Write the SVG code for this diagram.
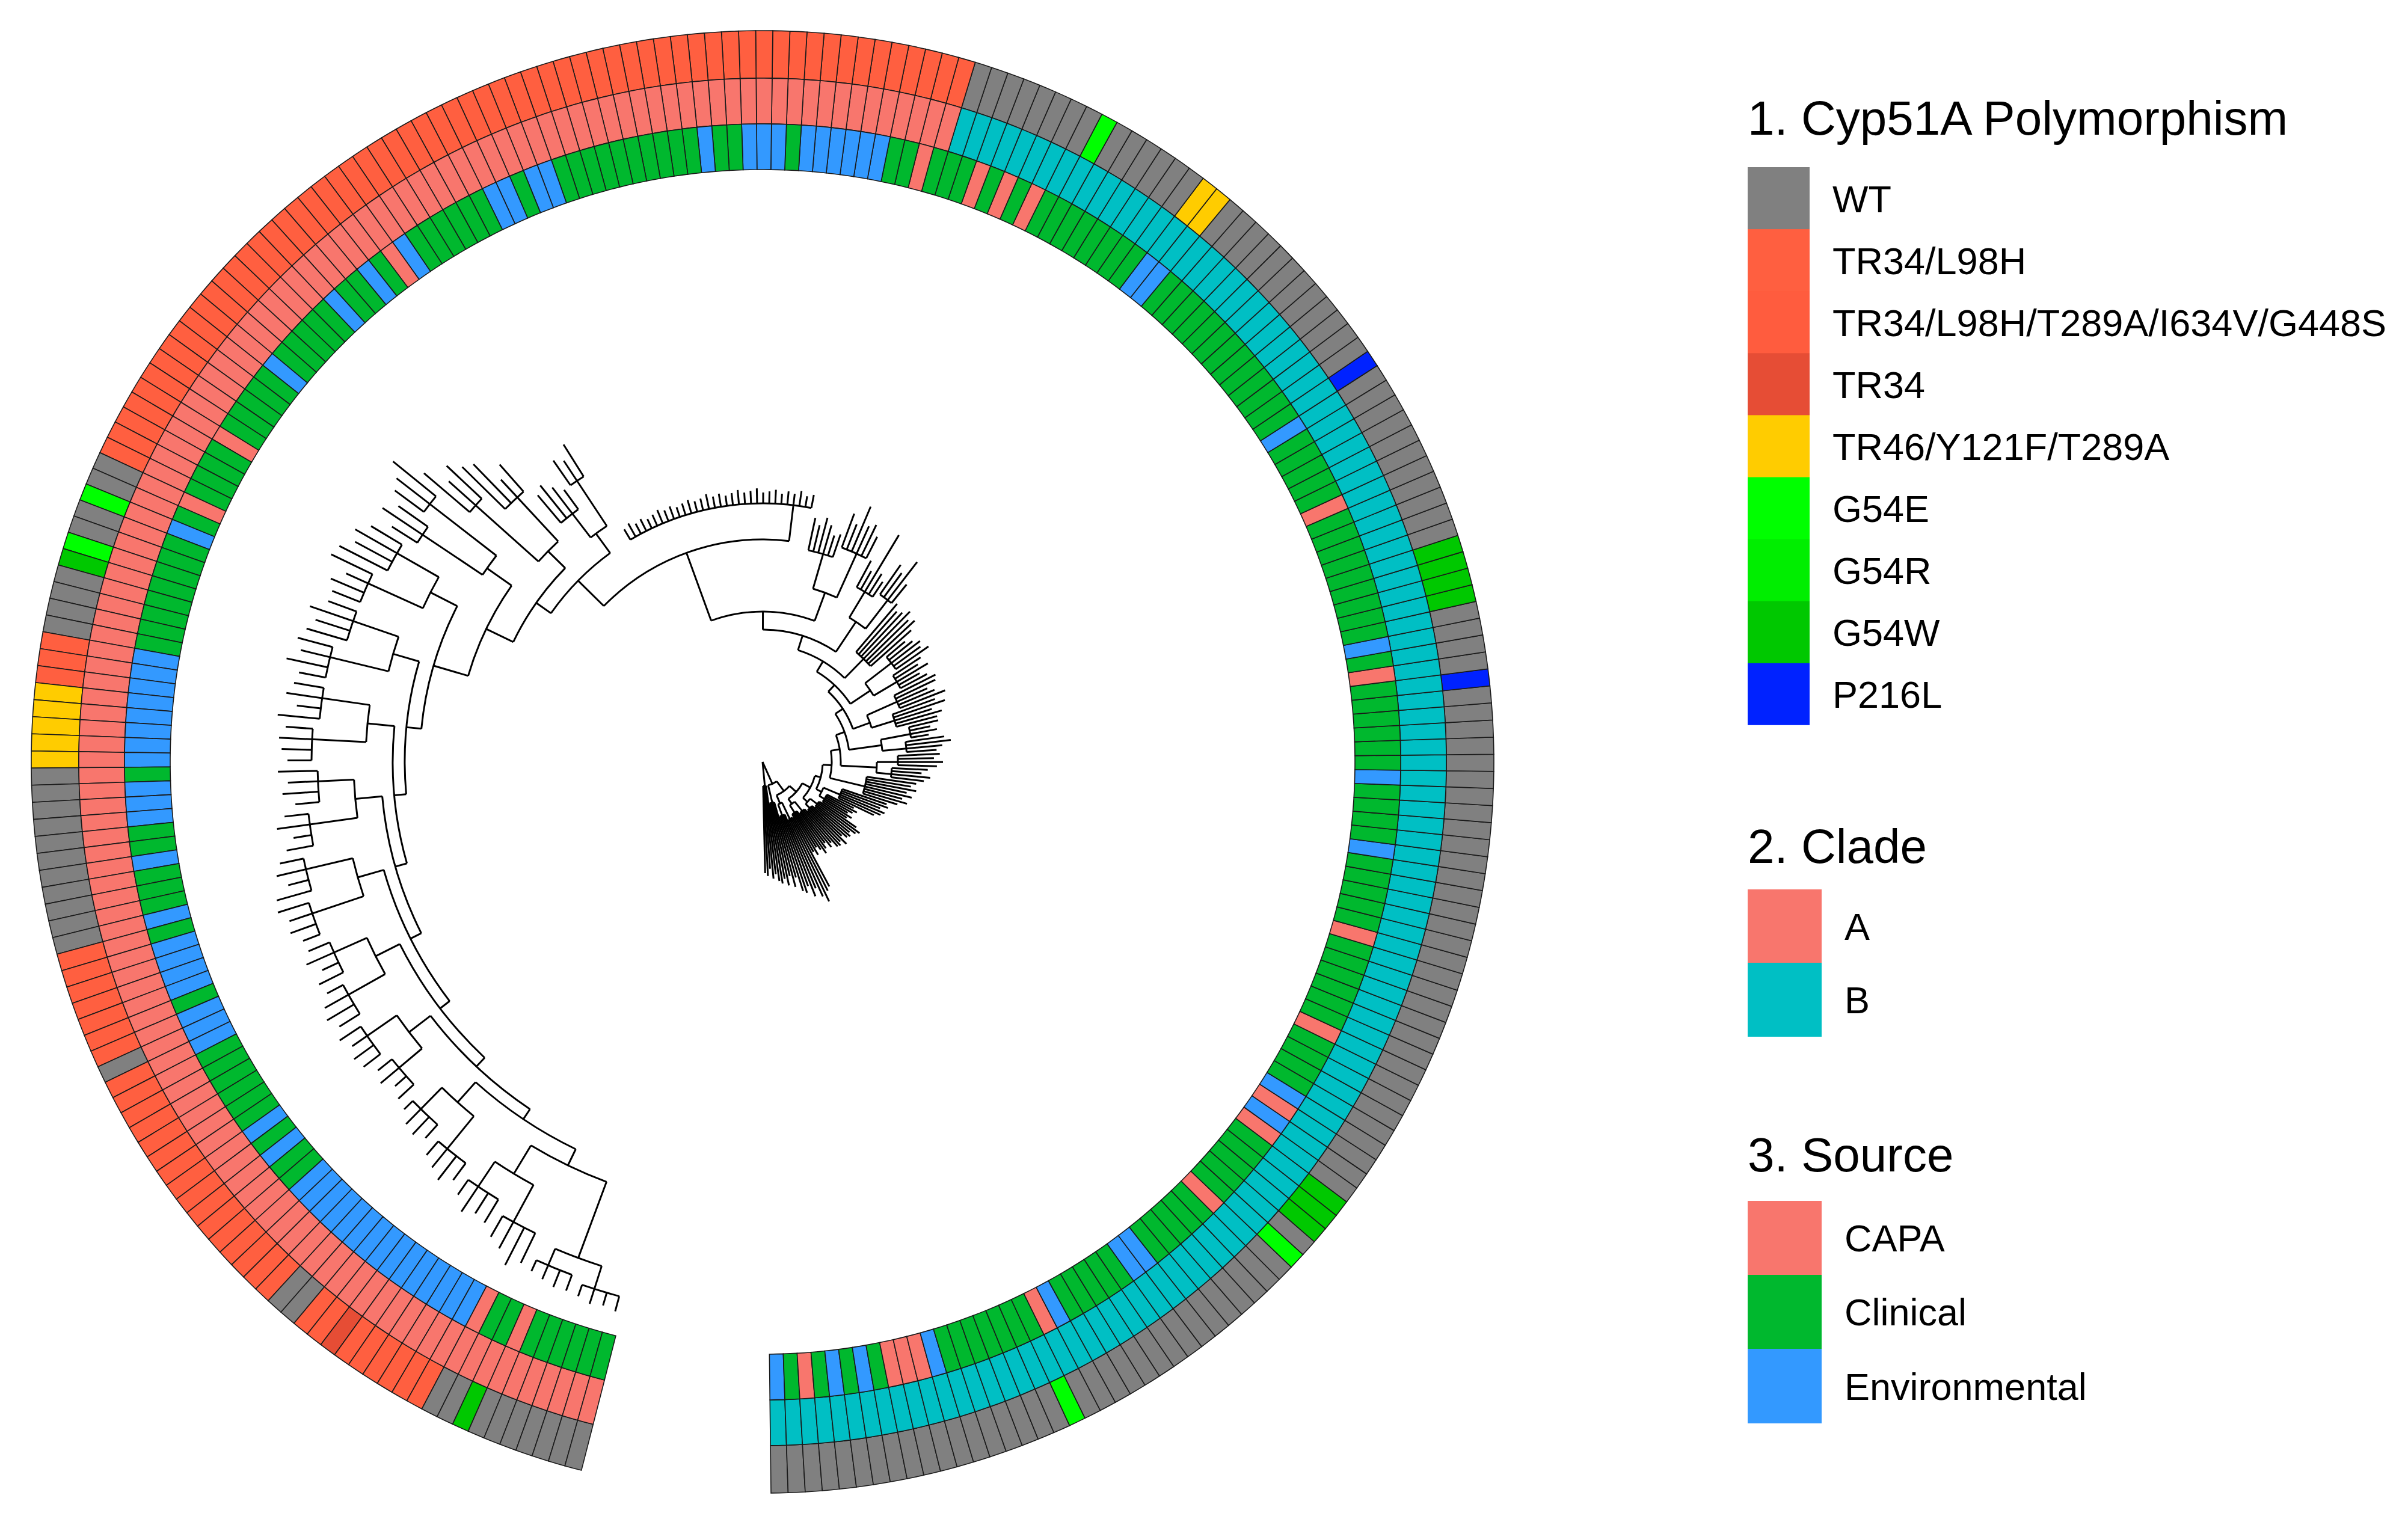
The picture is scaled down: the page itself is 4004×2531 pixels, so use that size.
<svg xmlns="http://www.w3.org/2000/svg" width="4004" height="2531" viewBox="0 0 4004 2531">
<style>
.w{fill:#808080}.r{fill:#FF5F40}.r2{fill:#FF5C3E}.t{fill:#E64D35}.y{fill:#FFCC00}.e{fill:#00FF00}.n{fill:#00EE00}.g{fill:#00C800}.p{fill:#0022FF}
.ca{fill:#F8766D}.cb{fill:#00BFC4}.sk{fill:#F8766D}.sc{fill:#00B82E}.sv{fill:#3399FF}
#tree path,#tree circle{fill:none;stroke:#000;stroke-width:3}
text{font-family:"Liberation Sans",Arial,sans-serif;fill:#000}
.lt{font-size:80px}.ll{font-size:63px}
</style>
<rect width="4004" height="2531" fill="#fff"/>
<defs>
<path id="o" d="M1136.92,-13.319L1215.916,-14.244A1216,1216 0 0 1 1215.916,14.244L1136.92,13.319A1137,1137 0 0 0 1136.92,-13.319Z" stroke="#1a1a1a" stroke-width="1.6"/>
<path id="m" d="M1060.93,-12.429L1136.92,-13.319A1137,1137 0 0 1 1136.92,13.319L1060.93,12.429A1061,1061 0 0 0 1060.93,-12.429Z" stroke="#1a1a1a" stroke-width="1.6"/>
<path id="i" d="M984.93,-11.538L1060.93,-12.429A1061,1061 0 0 1 1060.93,12.429L984.93,11.538A985,985 0 0 0 984.93,-11.538Z" stroke="#1a1a1a" stroke-width="1.6"/>
</defs>
<g id="heatmap" transform="translate(1268 1267)">
<g transform="rotate(88.6688)">
<g><use href="#o" class="w"/><use href="#m" class="cb"/><use href="#i" class="sv"/></g>
<g transform="rotate(-1.3424)"><use href="#o" class="w"/><use href="#m" class="cb"/><use href="#i" class="sc"/></g>
<g transform="rotate(-2.6848)"><use href="#o" class="w"/><use href="#m" class="cb"/><use href="#i" class="sk"/></g>
<g transform="rotate(-4.0272)"><use href="#o" class="w"/><use href="#m" class="cb"/><use href="#i" class="sc"/></g>
<g transform="rotate(-5.3696)"><use href="#o" class="w"/><use href="#m" class="cb"/><use href="#i" class="sv"/></g>
<g transform="rotate(-6.712)"><use href="#o" class="w"/><use href="#m" class="cb"/><use href="#i" class="sc"/></g>
<g transform="rotate(-8.0544)"><use href="#o" class="w"/><use href="#m" class="cb"/><use href="#i" class="sv"/></g>
<g transform="rotate(-9.3968)"><use href="#o" class="w"/><use href="#m" class="cb"/><use href="#i" class="sc"/></g>
<g transform="rotate(-10.7392)"><use href="#o" class="w"/><use href="#m" class="cb"/><use href="#i" class="sk"/></g>
<g transform="rotate(-12.0816)"><use href="#o" class="w"/><use href="#m" class="cb"/><use href="#i" class="sk"/></g>
</g>
<g transform="rotate(75.2448)">
<g><use href="#o" class="w"/><use href="#m" class="cb"/><use href="#i" class="sk"/></g>
<g transform="rotate(-1.3424)"><use href="#o" class="w"/><use href="#m" class="cb"/><use href="#i" class="sv"/></g>
<g transform="rotate(-2.6848)"><use href="#o" class="w"/><use href="#m" class="cb"/><use href="#i" class="sc"/></g>
<g transform="rotate(-4.0272)"><use href="#o" class="w"/><use href="#m" class="cb"/><use href="#i" class="sc"/></g>
<g transform="rotate(-5.3696)"><use href="#o" class="w"/><use href="#m" class="cb"/><use href="#i" class="sc"/></g>
<g transform="rotate(-6.712)"><use href="#o" class="w"/><use href="#m" class="cb"/><use href="#i" class="sc"/></g>
<g transform="rotate(-8.0544)"><use href="#o" class="w"/><use href="#m" class="cb"/><use href="#i" class="sc"/></g>
<g transform="rotate(-9.3968)"><use href="#o" class="w"/><use href="#m" class="cb"/><use href="#i" class="sc"/></g>
<g transform="rotate(-10.7392)"><use href="#o" class="e"/><use href="#m" class="cb"/><use href="#i" class="sc"/></g>
<g transform="rotate(-12.0816)"><use href="#o" class="w"/><use href="#m" class="cb"/><use href="#i" class="sk"/></g>
</g>
<g transform="rotate(61.8208)">
<g><use href="#o" class="w"/><use href="#m" class="cb"/><use href="#i" class="sv"/></g>
<g transform="rotate(-1.3424)"><use href="#o" class="w"/><use href="#m" class="cb"/><use href="#i" class="sc"/></g>
<g transform="rotate(-2.6848)"><use href="#o" class="w"/><use href="#m" class="cb"/><use href="#i" class="sc"/></g>
<g transform="rotate(-4.0272)"><use href="#o" class="w"/><use href="#m" class="cb"/><use href="#i" class="sc"/></g>
<g transform="rotate(-5.3696)"><use href="#o" class="w"/><use href="#m" class="cb"/><use href="#i" class="sc"/></g>
<g transform="rotate(-6.712)"><use href="#o" class="w"/><use href="#m" class="cb"/><use href="#i" class="sc"/></g>
<g transform="rotate(-8.0544)"><use href="#o" class="w"/><use href="#m" class="cb"/><use href="#i" class="sv"/></g>
<g transform="rotate(-9.3968)"><use href="#o" class="w"/><use href="#m" class="cb"/><use href="#i" class="sv"/></g>
<g transform="rotate(-10.7392)"><use href="#o" class="w"/><use href="#m" class="cb"/><use href="#i" class="sc"/></g>
<g transform="rotate(-12.0816)"><use href="#o" class="w"/><use href="#m" class="cb"/><use href="#i" class="sc"/></g>
</g>
<g transform="rotate(48.3968)">
<g><use href="#o" class="w"/><use href="#m" class="cb"/><use href="#i" class="sc"/></g>
<g transform="rotate(-1.3424)"><use href="#o" class="w"/><use href="#m" class="cb"/><use href="#i" class="sc"/></g>
<g transform="rotate(-2.6848)"><use href="#o" class="w"/><use href="#m" class="cb"/><use href="#i" class="sc"/></g>
<g transform="rotate(-4.0272)"><use href="#o" class="w"/><use href="#m" class="cb"/><use href="#i" class="sk"/></g>
<g transform="rotate(-5.3696)"><use href="#o" class="e"/><use href="#m" class="cb"/><use href="#i" class="sc"/></g>
<g transform="rotate(-6.712)"><use href="#o" class="w"/><use href="#m" class="cb"/><use href="#i" class="sc"/></g>
<g transform="rotate(-8.0544)"><use href="#o" class="g"/><use href="#m" class="cb"/><use href="#i" class="sc"/></g>
<g transform="rotate(-9.3968)"><use href="#o" class="g"/><use href="#m" class="cb"/><use href="#i" class="sc"/></g>
<g transform="rotate(-10.7392)"><use href="#o" class="g"/><use href="#m" class="cb"/><use href="#i" class="sc"/></g>
<g transform="rotate(-12.0816)"><use href="#o" class="w"/><use href="#m" class="cb"/><use href="#i" class="sk"/></g>
</g>
<g transform="rotate(34.9728)">
<g><use href="#o" class="w"/><use href="#m" class="cb"/><use href="#i" class="sv"/></g>
<g transform="rotate(-1.3424)"><use href="#o" class="w"/><use href="#m" class="cb"/><use href="#i" class="sk"/></g>
<g transform="rotate(-2.6848)"><use href="#o" class="w"/><use href="#m" class="cb"/><use href="#i" class="sv"/></g>
<g transform="rotate(-4.0272)"><use href="#o" class="w"/><use href="#m" class="cb"/><use href="#i" class="sc"/></g>
<g transform="rotate(-5.3696)"><use href="#o" class="w"/><use href="#m" class="cb"/><use href="#i" class="sc"/></g>
<g transform="rotate(-6.712)"><use href="#o" class="w"/><use href="#m" class="cb"/><use href="#i" class="sc"/></g>
<g transform="rotate(-8.0544)"><use href="#o" class="w"/><use href="#m" class="cb"/><use href="#i" class="sc"/></g>
<g transform="rotate(-9.3968)"><use href="#o" class="w"/><use href="#m" class="cb"/><use href="#i" class="sk"/></g>
<g transform="rotate(-10.7392)"><use href="#o" class="w"/><use href="#m" class="cb"/><use href="#i" class="sc"/></g>
<g transform="rotate(-12.0816)"><use href="#o" class="w"/><use href="#m" class="cb"/><use href="#i" class="sc"/></g>
</g>
<g transform="rotate(21.5488)">
<g><use href="#o" class="w"/><use href="#m" class="cb"/><use href="#i" class="sc"/></g>
<g transform="rotate(-1.3424)"><use href="#o" class="w"/><use href="#m" class="cb"/><use href="#i" class="sc"/></g>
<g transform="rotate(-2.6848)"><use href="#o" class="w"/><use href="#m" class="cb"/><use href="#i" class="sc"/></g>
<g transform="rotate(-4.0272)"><use href="#o" class="w"/><use href="#m" class="cb"/><use href="#i" class="sc"/></g>
<g transform="rotate(-5.3696)"><use href="#o" class="w"/><use href="#m" class="cb"/><use href="#i" class="sk"/></g>
<g transform="rotate(-6.712)"><use href="#o" class="w"/><use href="#m" class="cb"/><use href="#i" class="sc"/></g>
<g transform="rotate(-8.0544)"><use href="#o" class="w"/><use href="#m" class="cb"/><use href="#i" class="sc"/></g>
<g transform="rotate(-9.3968)"><use href="#o" class="w"/><use href="#m" class="cb"/><use href="#i" class="sc"/></g>
<g transform="rotate(-10.7392)"><use href="#o" class="w"/><use href="#m" class="cb"/><use href="#i" class="sc"/></g>
<g transform="rotate(-12.0816)"><use href="#o" class="w"/><use href="#m" class="cb"/><use href="#i" class="sc"/></g>
</g>
<g transform="rotate(8.1248)">
<g><use href="#o" class="w"/><use href="#m" class="cb"/><use href="#i" class="sv"/></g>
<g transform="rotate(-1.3424)"><use href="#o" class="w"/><use href="#m" class="cb"/><use href="#i" class="sc"/></g>
<g transform="rotate(-2.6848)"><use href="#o" class="w"/><use href="#m" class="cb"/><use href="#i" class="sc"/></g>
<g transform="rotate(-4.0272)"><use href="#o" class="w"/><use href="#m" class="cb"/><use href="#i" class="sc"/></g>
<g transform="rotate(-5.3696)"><use href="#o" class="w"/><use href="#m" class="cb"/><use href="#i" class="sc"/></g>
<g transform="rotate(-6.712)"><use href="#o" class="w"/><use href="#m" class="cb"/><use href="#i" class="sv"/></g>
<g transform="rotate(-8.0544)"><use href="#o" class="w"/><use href="#m" class="cb"/><use href="#i" class="sc"/></g>
<g transform="rotate(-9.3968)"><use href="#o" class="w"/><use href="#m" class="cb"/><use href="#i" class="sc"/></g>
<g transform="rotate(-10.7392)"><use href="#o" class="w"/><use href="#m" class="cb"/><use href="#i" class="sc"/></g>
<g transform="rotate(-12.0816)"><use href="#o" class="w"/><use href="#m" class="cb"/><use href="#i" class="sc"/></g>
</g>
<g transform="rotate(-5.2992)">
<g><use href="#o" class="w"/><use href="#m" class="cb"/><use href="#i" class="sc"/></g>
<g transform="rotate(-1.3424)"><use href="#o" class="p"/><use href="#m" class="cb"/><use href="#i" class="sc"/></g>
<g transform="rotate(-2.6848)"><use href="#o" class="w"/><use href="#m" class="cb"/><use href="#i" class="sk"/></g>
<g transform="rotate(-4.0272)"><use href="#o" class="w"/><use href="#m" class="cb"/><use href="#i" class="sc"/></g>
<g transform="rotate(-5.3696)"><use href="#o" class="w"/><use href="#m" class="cb"/><use href="#i" class="sv"/></g>
<g transform="rotate(-6.712)"><use href="#o" class="w"/><use href="#m" class="cb"/><use href="#i" class="sc"/></g>
<g transform="rotate(-8.0544)"><use href="#o" class="g"/><use href="#m" class="cb"/><use href="#i" class="sc"/></g>
<g transform="rotate(-9.3968)"><use href="#o" class="g"/><use href="#m" class="cb"/><use href="#i" class="sc"/></g>
<g transform="rotate(-10.7392)"><use href="#o" class="g"/><use href="#m" class="cb"/><use href="#i" class="sc"/></g>
<g transform="rotate(-12.0816)"><use href="#o" class="g"/><use href="#m" class="cb"/><use href="#i" class="sc"/></g>
</g>
<g transform="rotate(-18.7232)">
<g><use href="#o" class="w"/><use href="#m" class="cb"/><use href="#i" class="sc"/></g>
<g transform="rotate(-1.3424)"><use href="#o" class="w"/><use href="#m" class="cb"/><use href="#i" class="sc"/></g>
<g transform="rotate(-2.6848)"><use href="#o" class="w"/><use href="#m" class="cb"/><use href="#i" class="sc"/></g>
<g transform="rotate(-4.0272)"><use href="#o" class="w"/><use href="#m" class="cb"/><use href="#i" class="sc"/></g>
<g transform="rotate(-5.3696)"><use href="#o" class="w"/><use href="#m" class="cb"/><use href="#i" class="sk"/></g>
<g transform="rotate(-6.712)"><use href="#o" class="w"/><use href="#m" class="cb"/><use href="#i" class="sc"/></g>
<g transform="rotate(-8.0544)"><use href="#o" class="w"/><use href="#m" class="cb"/><use href="#i" class="sc"/></g>
<g transform="rotate(-9.3968)"><use href="#o" class="w"/><use href="#m" class="cb"/><use href="#i" class="sc"/></g>
<g transform="rotate(-10.7392)"><use href="#o" class="w"/><use href="#m" class="cb"/><use href="#i" class="sc"/></g>
<g transform="rotate(-12.0816)"><use href="#o" class="w"/><use href="#m" class="cb"/><use href="#i" class="sc"/></g>
</g>
<g transform="rotate(-32.1472)">
<g><use href="#o" class="w"/><use href="#m" class="cb"/><use href="#i" class="sv"/></g>
<g transform="rotate(-1.3424)"><use href="#o" class="p"/><use href="#m" class="cb"/><use href="#i" class="sc"/></g>
<g transform="rotate(-2.6848)"><use href="#o" class="w"/><use href="#m" class="cb"/><use href="#i" class="sc"/></g>
<g transform="rotate(-4.0272)"><use href="#o" class="w"/><use href="#m" class="cb"/><use href="#i" class="sc"/></g>
<g transform="rotate(-5.3696)"><use href="#o" class="w"/><use href="#m" class="cb"/><use href="#i" class="sc"/></g>
<g transform="rotate(-6.712)"><use href="#o" class="w"/><use href="#m" class="cb"/><use href="#i" class="sc"/></g>
<g transform="rotate(-8.0544)"><use href="#o" class="w"/><use href="#m" class="cb"/><use href="#i" class="sc"/></g>
<g transform="rotate(-9.3968)"><use href="#o" class="w"/><use href="#m" class="cb"/><use href="#i" class="sc"/></g>
<g transform="rotate(-10.7392)"><use href="#o" class="w"/><use href="#m" class="cb"/><use href="#i" class="sc"/></g>
<g transform="rotate(-12.0816)"><use href="#o" class="w"/><use href="#m" class="cb"/><use href="#i" class="sc"/></g>
</g>
<g transform="rotate(-45.5712)">
<g><use href="#o" class="w"/><use href="#m" class="cb"/><use href="#i" class="sc"/></g>
<g transform="rotate(-1.3424)"><use href="#o" class="w"/><use href="#m" class="cb"/><use href="#i" class="sc"/></g>
<g transform="rotate(-2.6848)"><use href="#o" class="w"/><use href="#m" class="cb"/><use href="#i" class="sc"/></g>
<g transform="rotate(-4.0272)"><use href="#o" class="w"/><use href="#m" class="cb"/><use href="#i" class="sc"/></g>
<g transform="rotate(-5.3696)"><use href="#o" class="y"/><use href="#m" class="cb"/><use href="#i" class="sv"/></g>
<g transform="rotate(-6.712)"><use href="#o" class="y"/><use href="#m" class="cb"/><use href="#i" class="sv"/></g>
<g transform="rotate(-8.0544)"><use href="#o" class="w"/><use href="#m" class="cb"/><use href="#i" class="sc"/></g>
<g transform="rotate(-9.3968)"><use href="#o" class="w"/><use href="#m" class="cb"/><use href="#i" class="sc"/></g>
<g transform="rotate(-10.7392)"><use href="#o" class="w"/><use href="#m" class="cb"/><use href="#i" class="sc"/></g>
<g transform="rotate(-12.0816)"><use href="#o" class="w"/><use href="#m" class="cb"/><use href="#i" class="sc"/></g>
</g>
<g transform="rotate(-58.9952)">
<g><use href="#o" class="w"/><use href="#m" class="cb"/><use href="#i" class="sc"/></g>
<g transform="rotate(-1.3424)"><use href="#o" class="w"/><use href="#m" class="cb"/><use href="#i" class="sc"/></g>
<g transform="rotate(-2.6848)"><use href="#o" class="e"/><use href="#m" class="cb"/><use href="#i" class="sc"/></g>
<g transform="rotate(-4.0272)"><use href="#o" class="w"/><use href="#m" class="cb"/><use href="#i" class="sc"/></g>
<g transform="rotate(-5.3696)"><use href="#o" class="w"/><use href="#m" class="cb"/><use href="#i" class="sk"/></g>
<g transform="rotate(-6.712)"><use href="#o" class="w"/><use href="#m" class="cb"/><use href="#i" class="sc"/></g>
<g transform="rotate(-8.0544)"><use href="#o" class="w"/><use href="#m" class="cb"/><use href="#i" class="sk"/></g>
<g transform="rotate(-9.3968)"><use href="#o" class="w"/><use href="#m" class="cb"/><use href="#i" class="sc"/></g>
<g transform="rotate(-10.7392)"><use href="#o" class="w"/><use href="#m" class="cb"/><use href="#i" class="sk"/></g>
<g transform="rotate(-12.0816)"><use href="#o" class="w"/><use href="#m" class="cb"/><use href="#i" class="sc"/></g>
</g>
<g transform="rotate(-72.4192)">
<g><use href="#o" class="w"/><use href="#m" class="cb"/><use href="#i" class="sc"/></g>
<g transform="rotate(-1.3424)"><use href="#o" class="r"/><use href="#m" class="ca"/><use href="#i" class="sc"/></g>
<g transform="rotate(-2.6848)"><use href="#o" class="r"/><use href="#m" class="ca"/><use href="#i" class="sk"/></g>
<g transform="rotate(-4.0272)"><use href="#o" class="r"/><use href="#m" class="ca"/><use href="#i" class="sc"/></g>
<g transform="rotate(-5.3696)"><use href="#o" class="r"/><use href="#m" class="ca"/><use href="#i" class="sc"/></g>
<g transform="rotate(-6.712)"><use href="#o" class="r"/><use href="#m" class="ca"/><use href="#i" class="sv"/></g>
<g transform="rotate(-8.0544)"><use href="#o" class="r"/><use href="#m" class="ca"/><use href="#i" class="sv"/></g>
<g transform="rotate(-9.3968)"><use href="#o" class="r"/><use href="#m" class="ca"/><use href="#i" class="sv"/></g>
<g transform="rotate(-10.7392)"><use href="#o" class="r"/><use href="#m" class="ca"/><use href="#i" class="sv"/></g>
<g transform="rotate(-12.0816)"><use href="#o" class="r"/><use href="#m" class="ca"/><use href="#i" class="sv"/></g>
</g>
<g transform="rotate(-85.8432)">
<g><use href="#o" class="r"/><use href="#m" class="ca"/><use href="#i" class="sv"/></g>
<g transform="rotate(-1.3424)"><use href="#o" class="r"/><use href="#m" class="ca"/><use href="#i" class="sc"/></g>
<g transform="rotate(-2.6848)"><use href="#o" class="r"/><use href="#m" class="ca"/><use href="#i" class="sv"/></g>
<g transform="rotate(-4.0272)"><use href="#o" class="r"/><use href="#m" class="ca"/><use href="#i" class="sv"/></g>
<g transform="rotate(-5.3696)"><use href="#o" class="r"/><use href="#m" class="ca"/><use href="#i" class="sv"/></g>
<g transform="rotate(-6.712)"><use href="#o" class="r"/><use href="#m" class="ca"/><use href="#i" class="sc"/></g>
<g transform="rotate(-8.0544)"><use href="#o" class="r"/><use href="#m" class="ca"/><use href="#i" class="sc"/></g>
<g transform="rotate(-9.3968)"><use href="#o" class="r"/><use href="#m" class="ca"/><use href="#i" class="sv"/></g>
<g transform="rotate(-10.7392)"><use href="#o" class="r"/><use href="#m" class="ca"/><use href="#i" class="sc"/></g>
<g transform="rotate(-12.0816)"><use href="#o" class="r"/><use href="#m" class="ca"/><use href="#i" class="sc"/></g>
</g>
<g transform="rotate(-99.2672)">
<g><use href="#o" class="r"/><use href="#m" class="ca"/><use href="#i" class="sc"/></g>
<g transform="rotate(-1.3424)"><use href="#o" class="r"/><use href="#m" class="ca"/><use href="#i" class="sc"/></g>
<g transform="rotate(-2.6848)"><use href="#o" class="r"/><use href="#m" class="ca"/><use href="#i" class="sc"/></g>
<g transform="rotate(-4.0272)"><use href="#o" class="r"/><use href="#m" class="ca"/><use href="#i" class="sc"/></g>
<g transform="rotate(-5.3696)"><use href="#o" class="r"/><use href="#m" class="ca"/><use href="#i" class="sc"/></g>
<g transform="rotate(-6.712)"><use href="#o" class="r"/><use href="#m" class="ca"/><use href="#i" class="sc"/></g>
<g transform="rotate(-8.0544)"><use href="#o" class="r"/><use href="#m" class="ca"/><use href="#i" class="sc"/></g>
<g transform="rotate(-9.3968)"><use href="#o" class="r"/><use href="#m" class="ca"/><use href="#i" class="sc"/></g>
<g transform="rotate(-10.7392)"><use href="#o" class="r"/><use href="#m" class="ca"/><use href="#i" class="sv"/></g>
<g transform="rotate(-12.0816)"><use href="#o" class="r"/><use href="#m" class="ca"/><use href="#i" class="sv"/></g>
</g>
<g transform="rotate(-112.6912)">
<g><use href="#o" class="r"/><use href="#m" class="ca"/><use href="#i" class="sc"/></g>
<g transform="rotate(-1.3424)"><use href="#o" class="r"/><use href="#m" class="ca"/><use href="#i" class="sv"/></g>
<g transform="rotate(-2.6848)"><use href="#o" class="r"/><use href="#m" class="ca"/><use href="#i" class="sv"/></g>
<g transform="rotate(-4.0272)"><use href="#o" class="r"/><use href="#m" class="ca"/><use href="#i" class="sc"/></g>
<g transform="rotate(-5.3696)"><use href="#o" class="r"/><use href="#m" class="ca"/><use href="#i" class="sc"/></g>
<g transform="rotate(-6.712)"><use href="#o" class="r"/><use href="#m" class="ca"/><use href="#i" class="sc"/></g>
<g transform="rotate(-8.0544)"><use href="#o" class="r"/><use href="#m" class="ca"/><use href="#i" class="sc"/></g>
<g transform="rotate(-9.3968)"><use href="#o" class="r"/><use href="#m" class="ca"/><use href="#i" class="sc"/></g>
<g transform="rotate(-10.7392)"><use href="#o" class="r"/><use href="#m" class="ca"/><use href="#i" class="sc"/></g>
<g transform="rotate(-12.0816)"><use href="#o" class="r"/><use href="#m" class="ca"/><use href="#i" class="sv"/></g>
</g>
<g transform="rotate(-126.1152)">
<g><use href="#o" class="r"/><use href="#m" class="ca"/><use href="#i" class="sk"/></g>
<g transform="rotate(-1.3424)"><use href="#o" class="r"/><use href="#m" class="ca"/><use href="#i" class="sc"/></g>
<g transform="rotate(-2.6848)"><use href="#o" class="r"/><use href="#m" class="ca"/><use href="#i" class="sv"/></g>
<g transform="rotate(-4.0272)"><use href="#o" class="r"/><use href="#m" class="ca"/><use href="#i" class="sc"/></g>
<g transform="rotate(-5.3696)"><use href="#o" class="r"/><use href="#m" class="ca"/><use href="#i" class="sc"/></g>
<g transform="rotate(-6.712)"><use href="#o" class="r"/><use href="#m" class="ca"/><use href="#i" class="sv"/></g>
<g transform="rotate(-8.0544)"><use href="#o" class="r"/><use href="#m" class="ca"/><use href="#i" class="sc"/></g>
<g transform="rotate(-9.3968)"><use href="#o" class="r"/><use href="#m" class="ca"/><use href="#i" class="sc"/></g>
<g transform="rotate(-10.7392)"><use href="#o" class="r"/><use href="#m" class="ca"/><use href="#i" class="sc"/></g>
<g transform="rotate(-12.0816)"><use href="#o" class="r"/><use href="#m" class="ca"/><use href="#i" class="sc"/></g>
</g>
<g transform="rotate(-139.5392)">
<g><use href="#o" class="r"/><use href="#m" class="ca"/><use href="#i" class="sc"/></g>
<g transform="rotate(-1.3424)"><use href="#o" class="r"/><use href="#m" class="ca"/><use href="#i" class="sv"/></g>
<g transform="rotate(-2.6848)"><use href="#o" class="r"/><use href="#m" class="ca"/><use href="#i" class="sc"/></g>
<g transform="rotate(-4.0272)"><use href="#o" class="r"/><use href="#m" class="ca"/><use href="#i" class="sc"/></g>
<g transform="rotate(-5.3696)"><use href="#o" class="r"/><use href="#m" class="ca"/><use href="#i" class="sc"/></g>
<g transform="rotate(-6.712)"><use href="#o" class="r"/><use href="#m" class="ca"/><use href="#i" class="sc"/></g>
<g transform="rotate(-8.0544)"><use href="#o" class="r"/><use href="#m" class="ca"/><use href="#i" class="sc"/></g>
<g transform="rotate(-9.3968)"><use href="#o" class="r"/><use href="#m" class="ca"/><use href="#i" class="sk"/></g>
<g transform="rotate(-10.7392)"><use href="#o" class="r"/><use href="#m" class="ca"/><use href="#i" class="sc"/></g>
<g transform="rotate(-12.0816)"><use href="#o" class="r"/><use href="#m" class="ca"/><use href="#i" class="sc"/></g>
</g>
<g transform="rotate(-152.9632)">
<g><use href="#o" class="r"/><use href="#m" class="ca"/><use href="#i" class="sc"/></g>
<g transform="rotate(-1.3424)"><use href="#o" class="r"/><use href="#m" class="ca"/><use href="#i" class="sc"/></g>
<g transform="rotate(-2.6848)"><use href="#o" class="w"/><use href="#m" class="ca"/><use href="#i" class="sk"/></g>
<g transform="rotate(-4.0272)"><use href="#o" class="w"/><use href="#m" class="ca"/><use href="#i" class="sc"/></g>
<g transform="rotate(-5.3696)"><use href="#o" class="e"/><use href="#m" class="ca"/><use href="#i" class="sv"/></g>
<g transform="rotate(-6.712)"><use href="#o" class="w"/><use href="#m" class="ca"/><use href="#i" class="sc"/></g>
<g transform="rotate(-8.0544)"><use href="#o" class="w"/><use href="#m" class="ca"/><use href="#i" class="sc"/></g>
<g transform="rotate(-9.3968)"><use href="#o" class="e"/><use href="#m" class="ca"/><use href="#i" class="sc"/></g>
<g transform="rotate(-10.7392)"><use href="#o" class="g"/><use href="#m" class="ca"/><use href="#i" class="sc"/></g>
<g transform="rotate(-12.0816)"><use href="#o" class="w"/><use href="#m" class="ca"/><use href="#i" class="sc"/></g>
</g>
<g transform="rotate(-166.3872)">
<g><use href="#o" class="w"/><use href="#m" class="ca"/><use href="#i" class="sc"/></g>
<g transform="rotate(-1.3424)"><use href="#o" class="w"/><use href="#m" class="ca"/><use href="#i" class="sc"/></g>
<g transform="rotate(-2.6848)"><use href="#o" class="w"/><use href="#m" class="ca"/><use href="#i" class="sc"/></g>
<g transform="rotate(-4.0272)"><use href="#o" class="r"/><use href="#m" class="ca"/><use href="#i" class="sv"/></g>
<g transform="rotate(-5.3696)"><use href="#o" class="r"/><use href="#m" class="ca"/><use href="#i" class="sv"/></g>
<g transform="rotate(-6.712)"><use href="#o" class="r"/><use href="#m" class="ca"/><use href="#i" class="sv"/></g>
<g transform="rotate(-8.0544)"><use href="#o" class="y"/><use href="#m" class="ca"/><use href="#i" class="sv"/></g>
<g transform="rotate(-9.3968)"><use href="#o" class="y"/><use href="#m" class="ca"/><use href="#i" class="sv"/></g>
<g transform="rotate(-10.7392)"><use href="#o" class="y"/><use href="#m" class="ca"/><use href="#i" class="sv"/></g>
<g transform="rotate(-12.0816)"><use href="#o" class="y"/><use href="#m" class="ca"/><use href="#i" class="sv"/></g>
</g>
<g transform="rotate(-179.8112)">
<g><use href="#o" class="y"/><use href="#m" class="ca"/><use href="#i" class="sv"/></g>
<g transform="rotate(-1.3424)"><use href="#o" class="w"/><use href="#m" class="ca"/><use href="#i" class="sc"/></g>
<g transform="rotate(-2.6848)"><use href="#o" class="w"/><use href="#m" class="ca"/><use href="#i" class="sv"/></g>
<g transform="rotate(-4.0272)"><use href="#o" class="w"/><use href="#m" class="ca"/><use href="#i" class="sv"/></g>
<g transform="rotate(-5.3696)"><use href="#o" class="w"/><use href="#m" class="ca"/><use href="#i" class="sv"/></g>
<g transform="rotate(-6.712)"><use href="#o" class="w"/><use href="#m" class="ca"/><use href="#i" class="sc"/></g>
<g transform="rotate(-8.0544)"><use href="#o" class="w"/><use href="#m" class="ca"/><use href="#i" class="sc"/></g>
<g transform="rotate(-9.3968)"><use href="#o" class="w"/><use href="#m" class="ca"/><use href="#i" class="sv"/></g>
<g transform="rotate(-10.7392)"><use href="#o" class="w"/><use href="#m" class="ca"/><use href="#i" class="sc"/></g>
<g transform="rotate(-12.0816)"><use href="#o" class="w"/><use href="#m" class="ca"/><use href="#i" class="sc"/></g>
</g>
<g transform="rotate(-193.2352)">
<g><use href="#o" class="w"/><use href="#m" class="ca"/><use href="#i" class="sc"/></g>
<g transform="rotate(-1.3424)"><use href="#o" class="w"/><use href="#m" class="ca"/><use href="#i" class="sv"/></g>
<g transform="rotate(-2.6848)"><use href="#o" class="r"/><use href="#m" class="ca"/><use href="#i" class="sc"/></g>
<g transform="rotate(-4.0272)"><use href="#o" class="r"/><use href="#m" class="ca"/><use href="#i" class="sv"/></g>
<g transform="rotate(-5.3696)"><use href="#o" class="r"/><use href="#m" class="ca"/><use href="#i" class="sv"/></g>
<g transform="rotate(-6.712)"><use href="#o" class="r"/><use href="#m" class="ca"/><use href="#i" class="sv"/></g>
<g transform="rotate(-8.0544)"><use href="#o" class="r"/><use href="#m" class="ca"/><use href="#i" class="sv"/></g>
<g transform="rotate(-9.3968)"><use href="#o" class="r"/><use href="#m" class="ca"/><use href="#i" class="sc"/></g>
<g transform="rotate(-10.7392)"><use href="#o" class="r"/><use href="#m" class="ca"/><use href="#i" class="sv"/></g>
<g transform="rotate(-12.0816)"><use href="#o" class="w"/><use href="#m" class="ca"/><use href="#i" class="sv"/></g>
</g>
<g transform="rotate(-206.6592)">
<g><use href="#o" class="r"/><use href="#m" class="ca"/><use href="#i" class="sv"/></g>
<g transform="rotate(-1.3424)"><use href="#o" class="r"/><use href="#m" class="ca"/><use href="#i" class="sc"/></g>
<g transform="rotate(-2.6848)"><use href="#o" class="r"/><use href="#m" class="ca"/><use href="#i" class="sc"/></g>
<g transform="rotate(-4.0272)"><use href="#o" class="r"/><use href="#m" class="ca"/><use href="#i" class="sc"/></g>
<g transform="rotate(-5.3696)"><use href="#o" class="r"/><use href="#m" class="ca"/><use href="#i" class="sc"/></g>
<g transform="rotate(-6.712)"><use href="#o" class="r"/><use href="#m" class="ca"/><use href="#i" class="sc"/></g>
<g transform="rotate(-8.0544)"><use href="#o" class="r"/><use href="#m" class="ca"/><use href="#i" class="sc"/></g>
<g transform="rotate(-9.3968)"><use href="#o" class="r"/><use href="#m" class="ca"/><use href="#i" class="sv"/></g>
<g transform="rotate(-10.7392)"><use href="#o" class="r"/><use href="#m" class="ca"/><use href="#i" class="sc"/></g>
<g transform="rotate(-12.0816)"><use href="#o" class="r"/><use href="#m" class="ca"/><use href="#i" class="sv"/></g>
</g>
<g transform="rotate(-220.0832)">
<g><use href="#o" class="r"/><use href="#m" class="ca"/><use href="#i" class="sc"/></g>
<g transform="rotate(-1.3424)"><use href="#o" class="r"/><use href="#m" class="ca"/><use href="#i" class="sc"/></g>
<g transform="rotate(-2.6848)"><use href="#o" class="r"/><use href="#m" class="ca"/><use href="#i" class="sv"/></g>
<g transform="rotate(-4.0272)"><use href="#o" class="r"/><use href="#m" class="ca"/><use href="#i" class="sv"/></g>
<g transform="rotate(-5.3696)"><use href="#o" class="r"/><use href="#m" class="ca"/><use href="#i" class="sv"/></g>
<g transform="rotate(-6.712)"><use href="#o" class="r"/><use href="#m" class="ca"/><use href="#i" class="sv"/></g>
<g transform="rotate(-8.0544)"><use href="#o" class="w"/><use href="#m" class="ca"/><use href="#i" class="sv"/></g>
<g transform="rotate(-9.3968)"><use href="#o" class="w"/><use href="#m" class="ca"/><use href="#i" class="sv"/></g>
<g transform="rotate(-10.7392)"><use href="#o" class="r"/><use href="#m" class="ca"/><use href="#i" class="sv"/></g>
<g transform="rotate(-12.0816)"><use href="#o" class="r"/><use href="#m" class="ca"/><use href="#i" class="sv"/></g>
</g>
<g transform="rotate(-233.5072)">
<g><use href="#o" class="t"/><use href="#m" class="ca"/><use href="#i" class="sv"/></g>
<g transform="rotate(-1.3424)"><use href="#o" class="r"/><use href="#m" class="ca"/><use href="#i" class="sv"/></g>
<g transform="rotate(-2.6848)"><use href="#o" class="r"/><use href="#m" class="ca"/><use href="#i" class="sv"/></g>
<g transform="rotate(-4.0272)"><use href="#o" class="r"/><use href="#m" class="ca"/><use href="#i" class="sv"/></g>
<g transform="rotate(-5.3696)"><use href="#o" class="r"/><use href="#m" class="ca"/><use href="#i" class="sv"/></g>
<g transform="rotate(-6.712)"><use href="#o" class="r"/><use href="#m" class="ca"/><use href="#i" class="sv"/></g>
<g transform="rotate(-8.0544)"><use href="#o" class="r"/><use href="#m" class="ca"/><use href="#i" class="sv"/></g>
<g transform="rotate(-9.3968)"><use href="#o" class="w"/><use href="#m" class="ca"/><use href="#i" class="sk"/></g>
<g transform="rotate(-10.7392)"><use href="#o" class="w"/><use href="#m" class="ca"/><use href="#i" class="sc"/></g>
<g transform="rotate(-12.0816)"><use href="#o" class="g"/><use href="#m" class="ca"/><use href="#i" class="sc"/></g>
</g>
<g transform="rotate(-246.9312)">
<g><use href="#o" class="w"/><use href="#m" class="ca"/><use href="#i" class="sk"/></g>
<g transform="rotate(-1.3424)"><use href="#o" class="w"/><use href="#m" class="ca"/><use href="#i" class="sc"/></g>
<g transform="rotate(-2.6848)"><use href="#o" class="w"/><use href="#m" class="ca"/><use href="#i" class="sc"/></g>
<g transform="rotate(-4.0272)"><use href="#o" class="w"/><use href="#m" class="ca"/><use href="#i" class="sc"/></g>
<g transform="rotate(-5.3696)"><use href="#o" class="w"/><use href="#m" class="ca"/><use href="#i" class="sc"/></g>
<g transform="rotate(-6.712)"><use href="#o" class="w"/><use href="#m" class="ca"/><use href="#i" class="sc"/></g>
<g transform="rotate(-8.0544)"><use href="#o" class="w"/><use href="#m" class="ca"/><use href="#i" class="sc"/></g>
</g>
</g>
<g id="tree" transform="translate(1268 1267)">
<g transform="rotate(88.6688)">
<path d="M40 0H185"/>
<path transform="rotate(-1.3424)" d="M40 0H190"/>
<path transform="rotate(-2.6848)" d="M40 0H178"/>
<path transform="rotate(-4.0272)" d="M0 0H195"/>
<path transform="rotate(-5.3696)" d="M40 0H188"/>
<g transform="rotate(-6.712)"><path d="M40 0H200"/><circle r="40" stroke-dasharray="4.69 9999"/></g>
<path transform="rotate(-8.0544)" d="M70 0H205"/>
<path transform="rotate(-9.3968)" d="M70 0H198"/>
<path transform="rotate(-10.7392)" d="M70 0H210"/>
<path transform="rotate(-12.0816)" d="M40 0H195"/>
</g>
<g transform="rotate(75.2448)">
<path d="M70 0H215"/>
<g transform="rotate(-1.3424)"><path d="M70 0H200"/><circle r="70" stroke-dasharray="8.2 9999"/></g>
<path transform="rotate(-2.6848)" d="M95 0H225"/>
<path transform="rotate(-4.0272)" d="M95 0H230"/>
<path transform="rotate(-5.3696)" d="M75 0H220"/>
<path transform="rotate(-6.712)" d="M95 0H240"/>
<g transform="rotate(-8.0544)"><path d="M60 0H75M95 0H228"/><circle r="95" stroke-dasharray="8.9 9999"/></g>
<path transform="rotate(-9.3968)" d="M0 0H40M105 0H245"/>
<g transform="rotate(-10.7392)"><path d="M75 0H257"/><circle r="75" stroke-dasharray="7.03 9999"/></g>
<path transform="rotate(-12.0816)" d="M105 0H240"/>
</g>
<g transform="rotate(61.8208)">
<g><path d="M105 0H235"/><circle r="105" stroke-dasharray="7.38 9999"/></g>
<path transform="rotate(-1.3424)" d="M100 0H172"/>
<path transform="rotate(-2.6848)" d="M100 0H180"/>
<path transform="rotate(-4.0272)" d="M85 0H168"/>
<path transform="rotate(-5.3696)" d="M100 0H175"/>
<g transform="rotate(-6.712)"><path d="M75 0H85M100 0H185"/><circle r="100" stroke-dasharray="9.37 9999"/></g>
<g transform="rotate(-8.0544)"><path d="M40 0H60M105 0H178"/><circle r="40" stroke-dasharray="15.93 9999"/></g>
<path transform="rotate(-9.3968)" d="M105 0H170"/>
<g transform="rotate(-10.7392)"><path d="M85 0H182"/><circle r="85" stroke-dasharray="9.96 9999"/></g>
<path transform="rotate(-12.0816)" d="M105 0H176"/>
</g>
<g transform="rotate(48.3968)">
<g><path d="M105 0H188"/><circle r="105" stroke-dasharray="9.84 9999"/></g>
<path transform="rotate(-1.3424)" d="M110 0H190"/>
<path transform="rotate(-2.6848)" d="M110 0H185"/>
<path transform="rotate(-4.0272)" d="M100 0H195"/>
<path transform="rotate(-5.3696)" d="M110 0H180"/>
<g transform="rotate(-6.712)"><path d="M60 0H75M90 0H100M110 0H188"/><circle r="110" stroke-dasharray="10.31 9999"/><circle r="60" stroke-dasharray="26.71 9999"/></g>
<path transform="rotate(-8.0544)" d="M115 0H191"/>
<path transform="rotate(-9.3968)" d="M115 0H186"/>
<g transform="rotate(-10.7392)"><path d="M100 0H195"/><circle r="100" stroke-dasharray="11.71 9999"/></g>
<path transform="rotate(-12.0816)" d="M115 0H200"/>
</g>
<g transform="rotate(34.9728)">
<g><path d="M115 0H190"/><circle r="115" stroke-dasharray="10.78 9999"/></g>
<path transform="rotate(-1.3424)" d="M120 0H168"/>
<path transform="rotate(-2.6848)" d="M120 0H175"/>
<path transform="rotate(-4.0272)" d="M110 0H165"/>
<path transform="rotate(-5.3696)" d="M120 0H172"/>
<g transform="rotate(-6.712)"><path d="M75 0H90M120 0H178"/><circle r="75" stroke-dasharray="35.14 9999"/></g>
<g transform="rotate(-8.0544)"><path d="M100 0H110M120 0H170"/><circle r="120" stroke-dasharray="14.06 9999"/></g>
<path transform="rotate(-9.3968)" d="M140 0H205"/>
<path transform="rotate(-10.7392)" d="M140 0H215"/>
<g transform="rotate(-12.0816)"><path d="M110 0H220"/><circle r="110" stroke-dasharray="15.46 9999"/></g>
</g>
<g transform="rotate(21.5488)">
<path d="M140 0H210"/>
<path transform="rotate(-1.3424)" d="M140 0H222"/>
<g transform="rotate(-2.6848)"><path d="M140 0H218"/><circle r="140" stroke-dasharray="16.4 9999"/></g>
<path transform="rotate(-4.0272)" d="M175 0H235"/>
<path transform="rotate(-5.3696)" d="M175 0H250"/>
<g transform="rotate(-6.712)"><path d="M90 0H100M175 0H240"/><circle r="90" stroke-dasharray="42.17 9999"/></g>
<path transform="rotate(-8.0544)" d="M115 0H255"/>
<path transform="rotate(-9.3968)" d="M175 0H245"/>
<path transform="rotate(-10.7392)" d="M175 0H260"/>
<path transform="rotate(-12.0816)" d="M175 0H250"/>
</g>
<g transform="rotate(8.1248)">
<g><path d="M175 0H258"/><circle r="175" stroke-dasharray="28.7 9999"/></g>
<path transform="rotate(-1.3424)" d="M215 0H270"/>
<path transform="rotate(-2.6848)" d="M190 0H280"/>
<path transform="rotate(-4.0272)" d="M215 0H265"/>
<g transform="rotate(-5.3696)"><path d="M100 0H115M130 0H190M215 0H275"/><circle r="215" stroke-dasharray="15.11 9999"/><circle r="100" stroke-dasharray="42.17 9999"/></g>
<path transform="rotate(-6.712)" d="M225 0H290"/>
<g transform="rotate(-8.0544)"><path d="M190 0H300"/><circle r="190" stroke-dasharray="17.81 9999"/></g>
<path transform="rotate(-9.3968)" d="M225 0H285"/>
<g transform="rotate(-10.7392)"><path d="M225 0H295"/><circle r="225" stroke-dasharray="15.81 9999"/></g>
<path transform="rotate(-12.0816)" d="M240 0H290"/>
</g>
<g transform="rotate(-5.2992)">
<path d="M200 0H300"/>
<path transform="rotate(-1.3424)" d="M240 0H315"/>
<g transform="rotate(-2.6848)"><path d="M145 0H200M240 0H305"/><circle r="240" stroke-dasharray="16.87 9999"/></g>
<g transform="rotate(-4.0272)"><path d="M115 0H130M250 0H280"/><circle r="115" stroke-dasharray="45.8 9999"/></g>
<g transform="rotate(-5.3696)"><path d="M200 0H295"/><circle r="200" stroke-dasharray="18.74 9999"/></g>
<path transform="rotate(-6.712)" d="M250 0H285"/>
<g transform="rotate(-8.0544)"><path d="M250 0H300"/><circle r="250" stroke-dasharray="17.57 9999"/></g>
<path transform="rotate(-9.3968)" d="M230 0H300"/>
<path transform="rotate(-10.7392)" d="M230 0H310"/>
<path transform="rotate(-12.0816)" d="M190 0H295"/>
</g>
<g transform="rotate(-18.7232)">
<path d="M230 0H320"/>
<g transform="rotate(-1.3424)"><path d="M130 0H145M160 0H190M230 0H305"/><circle r="230" stroke-dasharray="21.55 9999"/><circle r="130" stroke-dasharray="51.78 9999"/></g>
<path transform="rotate(-2.6848)" d="M245 0H326"/>
<path transform="rotate(-4.0272)" d="M245 0H310"/>
<g transform="rotate(-5.3696)"><path d="M190 0H300"/><circle r="190" stroke-dasharray="22.26 9999"/></g>
<path transform="rotate(-6.712)" d="M245 0H318"/>
<g transform="rotate(-8.0544)"><path d="M245 0H322"/><circle r="245" stroke-dasharray="22.96 9999"/></g>
<path transform="rotate(-9.3968)" d="M260 0H310"/>
<path transform="rotate(-10.7392)" d="M260 0H300"/>
<path transform="rotate(-12.0816)" d="M215 0H320"/>
</g>
<g transform="rotate(-32.1472)">
<path d="M260 0H305"/>
<g transform="rotate(-1.3424)"><path d="M145 0H160M175 0H215M260 0H315"/><circle r="260" stroke-dasharray="24.37 9999"/><circle r="145" stroke-dasharray="64.55 9999"/></g>
<path transform="rotate(-2.6848)" d="M270 0H336"/>
<path transform="rotate(-4.0272)" d="M270 0H325"/>
<g transform="rotate(-5.3696)"><path d="M215 0H330"/><circle r="215" stroke-dasharray="25.19 9999"/></g>
<path transform="rotate(-6.712)" d="M270 0H320"/>
<g transform="rotate(-8.0544)"><path d="M270 0H310"/><circle r="270" stroke-dasharray="25.3 9999"/></g>
<path transform="rotate(-9.3968)" d="M240 0H330"/>
<path transform="rotate(-10.7392)" d="M240 0H345"/>
<path transform="rotate(-12.0816)" d="M240 0H338"/>
</g>
<g transform="rotate(-45.5712)">
<path d="M195 0H350"/>
<g transform="rotate(-1.3424)"><path d="M160 0H175M240 0H340"/><circle r="160" stroke-dasharray="74.97 9999"/></g>
<path transform="rotate(-2.6848)" d="M240 0H335"/>
<g transform="rotate(-4.0272)"><path d="M240 0H345"/><circle r="240" stroke-dasharray="33.74 9999"/></g>
<path transform="rotate(-5.3696)" d="M340 0H380"/>
<path transform="rotate(-6.712)" d="M280 0H420"/>
<path transform="rotate(-8.0544)" d="M340 0H390"/>
<g transform="rotate(-9.3968)"><path d="M340 0H400"/><circle r="340" stroke-dasharray="23.9 9999"/></g>
<path transform="rotate(-10.7392)" d="M220 0H280M330 0H360"/>
<path transform="rotate(-12.0816)" d="M330 0H370"/>
</g>
<g transform="rotate(-58.9952)">
<g><path d="M175 0H195M280 0H440"/><circle r="280" stroke-dasharray="32.8 9999"/><circle r="175" stroke-dasharray="77.9 9999"/></g>
<path transform="rotate(-1.3424)" d="M330 0H365"/>
<g transform="rotate(-2.6848)"><path d="M330 0H380"/><circle r="330" stroke-dasharray="30.93 9999"/></g>
<path transform="rotate(-4.0272)" d="M380 0H420"/>
<path transform="rotate(-5.3696)" d="M380 0H437"/>
<path transform="rotate(-6.712)" d="M300 0H430"/>
<path transform="rotate(-8.0544)" d="M380 0H461"/>
<path transform="rotate(-9.3968)" d="M380 0H425"/>
<g transform="rotate(-10.7392)"><path d="M250 0H300M380 0H440"/><circle r="380" stroke-dasharray="44.52 9999"/></g>
<path transform="rotate(-12.0816)" d="M360 0H400"/>
</g>
<g transform="rotate(-72.4192)">
<g><path d="M195 0H220M360 0H395"/><circle r="195" stroke-dasharray="91.37 9999"/></g>
<g transform="rotate(-1.3424)"><path d="M300 0H410"/><circle r="300" stroke-dasharray="42.17 9999"/></g>
<path transform="rotate(-2.6848)" d="M360 0H420"/>
<path transform="rotate(-4.0272)" d="M360 0H405"/>
<g transform="rotate(-5.3696)"><path d="M360 0H415"/><circle r="360" stroke-dasharray="42.17 9999"/></g>
<path transform="rotate(-6.712)" d="M430 0H452"/>
<path transform="rotate(-8.0544)" d="M430 0H448"/>
<path transform="rotate(-9.3968)" d="M430 0H455"/>
<path transform="rotate(-10.7392)" d="M370 0H449"/>
<path transform="rotate(-12.0816)" d="M430 0H452"/>
</g>
<g transform="rotate(-85.8432)">
<path d="M430 0H447"/>
<path transform="rotate(-1.3424)" d="M430 0H453"/>
<path transform="rotate(-2.6848)" d="M430 0H450"/>
<g transform="rotate(-4.0272)"><path d="M220 0H250M430 0H448"/><circle r="220" stroke-dasharray="128.86 9999"/></g>
<path transform="rotate(-5.3696)" d="M430 0H455"/>
<path transform="rotate(-6.712)" d="M430 0H451"/>
<path transform="rotate(-8.0544)" d="M430 0H449"/>
<path transform="rotate(-9.3968)" d="M430 0H454"/>
<path transform="rotate(-10.7392)" d="M430 0H450"/>
<path transform="rotate(-12.0816)" d="M430 0H447"/>
</g>
<g transform="rotate(-99.2672)">
<path d="M430 0H452"/>
<path transform="rotate(-1.3424)" d="M430 0H449"/>
<path transform="rotate(-2.6848)" d="M430 0H455"/>
<path transform="rotate(-4.0272)" d="M430 0H450"/>
<path transform="rotate(-5.3696)" d="M430 0H448"/>
<path transform="rotate(-6.712)" d="M430 0H453"/>
<path transform="rotate(-8.0544)" d="M430 0H450"/>
<path transform="rotate(-9.3968)" d="M430 0H447"/>
<g transform="rotate(-10.7392)"><path d="M250 0H370M430 0H452"/><circle r="250" stroke-dasharray="175.72 9999"/></g>
<path transform="rotate(-12.0816)" d="M430 0H449"/>
</g>
<g transform="rotate(-112.6912)">
<path d="M430 0H454"/>
<path transform="rotate(-1.3424)" d="M430 0H450"/>
<path transform="rotate(-2.6848)" d="M430 0H447"/>
<path transform="rotate(-4.0272)" d="M430 0H452"/>
<path transform="rotate(-5.3696)" d="M430 0H449"/>
<path transform="rotate(-6.712)" d="M430 0H455"/>
<g transform="rotate(-8.0544)"><path d="M430 0H450"/><circle r="430" stroke-dasharray="312.31 9999"/></g>
<path transform="rotate(-9.3968)" d="M560 0H623"/>
<path transform="rotate(-10.7392)" d="M470 0H600"/>
<g transform="rotate(-12.0816)"><path d="M560 0H610"/><circle r="560" stroke-dasharray="26.24 9999"/></g>
</g>
<g transform="rotate(-126.1152)">
<path d="M430 0H470M520 0H560"/>
<g transform="rotate(-1.3424)"><path d="M470 0H575"/><circle r="470" stroke-dasharray="33.03 9999"/></g>
<path transform="rotate(-2.6848)" d="M520 0H590"/>
<g transform="rotate(-4.0272)"><path d="M520 0H580"/><circle r="520" stroke-dasharray="36.55 9999"/></g>
<path transform="rotate(-5.3696)" d="M600 0H660"/>
<path transform="rotate(-6.712)" d="M500 0H640"/>
<path transform="rotate(-8.0544)" d="M600 0H690"/>
<g transform="rotate(-9.3968)"><path d="M370 0H430M460 0H500M600 0H700"/><circle r="600" stroke-dasharray="42.17 9999"/><circle r="370" stroke-dasharray="338.08 9999"/></g>
<path transform="rotate(-10.7392)" d="M640 0H720"/>
<g transform="rotate(-12.0816)"><path d="M500 0H700"/><circle r="500" stroke-dasharray="46.86 9999"/></g>
</g>
<g transform="rotate(-139.5392)">
<g><path d="M640 0H740"/><circle r="640" stroke-dasharray="29.99 9999"/></g>
<path transform="rotate(-1.3424)" d="M700 0H792"/>
<path transform="rotate(-2.6848)" d="M560 0H770"/>
<g transform="rotate(-4.0272)"><path d="M700 0H760"/><circle r="700" stroke-dasharray="32.8 9999"/></g>
<g transform="rotate(-5.3696)"><path d="M430 0H460M510 0H560M680 0H740"/><circle r="430" stroke-dasharray="141.04 9999"/></g>
<g transform="rotate(-6.712)"><path d="M560 0H760"/><circle r="560" stroke-dasharray="39.36 9999"/></g>
<g transform="rotate(-8.0544)"><path d="M680 0H730"/><circle r="680" stroke-dasharray="31.86 9999"/></g>
<path transform="rotate(-9.3968)" d="M700 0H760"/>
<path transform="rotate(-10.7392)" d="M620 0H780"/>
<path transform="rotate(-12.0816)" d="M700 0H770"/>
</g>
<g transform="rotate(-152.9632)">
<g><path d="M570 0H620M700 0H790"/><circle r="700" stroke-dasharray="49.2 9999"/></g>
<g transform="rotate(-1.3424)"><path d="M460 0H510M720 0H796"/><circle r="460" stroke-dasharray="150.88 9999"/></g>
<g transform="rotate(-2.6848)"><path d="M620 0H760"/><circle r="620" stroke-dasharray="58.1 9999"/></g>
<path transform="rotate(-4.0272)" d="M720 0H780"/>
<g transform="rotate(-5.3696)"><path d="M720 0H770"/><circle r="720" stroke-dasharray="50.61 9999"/></g>
<path transform="rotate(-6.712)" d="M720 0H770"/>
<path transform="rotate(-8.0544)" d="M640 0H796"/>
<path transform="rotate(-9.3968)" d="M720 0H780"/>
<g transform="rotate(-10.7392)"><path d="M510 0H570M595 0H640M720 0H790"/><circle r="720" stroke-dasharray="50.61 9999"/><circle r="510" stroke-dasharray="167.28 9999"/></g>
<path transform="rotate(-12.0816)" d="M740 0H800"/>
</g>
<g transform="rotate(-166.3872)">
<g><path d="M640 0H790"/><circle r="640" stroke-dasharray="59.98 9999"/></g>
<path transform="rotate(-1.3424)" d="M740 0H810"/>
<g transform="rotate(-2.6848)"><path d="M740 0H785"/><circle r="740" stroke-dasharray="52.01 9999"/></g>
<path transform="rotate(-4.0272)" d="M740 0H790"/>
<path transform="rotate(-5.3696)" d="M660 0H800"/>
<path transform="rotate(-6.712)" d="M740 0H780"/>
<g transform="rotate(-8.0544)"><path d="M570 0H595M615 0H660M740 0H810"/><circle r="740" stroke-dasharray="52.01 9999"/><circle r="570" stroke-dasharray="213.67 9999"/></g>
<path transform="rotate(-9.3968)" d="M750 0H795"/>
<g transform="rotate(-10.7392)"><path d="M660 0H805"/><circle r="660" stroke-dasharray="61.85 9999"/></g>
<path transform="rotate(-12.0816)" d="M750 0H800"/>
</g>
<g transform="rotate(-179.8112)">
<g><path d="M750 0H790"/><circle r="750" stroke-dasharray="52.72 9999"/></g>
<path transform="rotate(-1.3424)" d="M740 0H806"/>
<path transform="rotate(-2.6848)" d="M680 0H790"/>
<path transform="rotate(-4.0272)" d="M740 0H800"/>
<g transform="rotate(-5.3696)"><path d="M595 0H615M635 0H680M740 0H780"/><circle r="740" stroke-dasharray="52.01 9999"/><circle r="595" stroke-dasharray="223.04 9999"/></g>
<path transform="rotate(-6.712)" d="M760 0H800"/>
<g transform="rotate(-8.0544)"><path d="M680 0H815"/><circle r="680" stroke-dasharray="63.73 9999"/></g>
<path transform="rotate(-9.3968)" d="M760 0H790"/>
<g transform="rotate(-10.7392)"><path d="M760 0H805"/><circle r="760" stroke-dasharray="53.42 9999"/></g>
<path transform="rotate(-12.0816)" d="M780 0H820"/>
</g>
<g transform="rotate(-193.2352)">
<path d="M700 0H830"/>
<path transform="rotate(-1.3424)" d="M780 0H815"/>
<g transform="rotate(-2.6848)"><path d="M615 0H635M655 0H700M780 0H840"/><circle r="780" stroke-dasharray="54.82 9999"/><circle r="615" stroke-dasharray="230.54 9999"/></g>
<path transform="rotate(-4.0272)" d="M790 0H844"/>
<g transform="rotate(-5.3696)"><path d="M700 0H830"/><circle r="700" stroke-dasharray="65.6 9999"/></g>
<path transform="rotate(-6.712)" d="M790 0H835"/>
<g transform="rotate(-8.0544)"><path d="M790 0H820"/><circle r="790" stroke-dasharray="55.53 9999"/></g>
<path transform="rotate(-9.3968)" d="M780 0H818"/>
<path transform="rotate(-10.7392)" d="M720 0H830"/>
<path transform="rotate(-12.0816)" d="M780 0H810"/>
</g>
<g transform="rotate(-206.6592)">
<g><path d="M635 0H655M675 0H720M780 0H825"/><circle r="780" stroke-dasharray="54.82 9999"/><circle r="635" stroke-dasharray="238.04 9999"/></g>
<path transform="rotate(-1.3424)" d="M790 0H820"/>
<g transform="rotate(-2.6848)"><path d="M720 0H835"/><circle r="720" stroke-dasharray="67.48 9999"/></g>
<path transform="rotate(-4.0272)" d="M790 0H842"/>
<g transform="rotate(-5.3696)"><path d="M790 0H830"/><circle r="790" stroke-dasharray="55.53 9999"/></g>
<path transform="rotate(-6.712)" d="M800 0H842"/>
<path transform="rotate(-8.0544)" d="M740 0H830"/>
<path transform="rotate(-9.3968)" d="M800 0H840"/>
<g transform="rotate(-10.7392)"><path d="M655 0H675M695 0H740M800 0H835"/><circle r="800" stroke-dasharray="56.23 9999"/><circle r="655" stroke-dasharray="245.54 9999"/></g>
<path transform="rotate(-12.0816)" d="M790 0H820"/>
</g>
<g transform="rotate(-220.0832)">
<g><path d="M740 0H830"/><circle r="740" stroke-dasharray="69.35 9999"/></g>
<path transform="rotate(-1.3424)" d="M790 0H815"/>
<g transform="rotate(-2.6848)"><path d="M790 0H825"/><circle r="790" stroke-dasharray="55.53 9999"/></g>
<path transform="rotate(-4.0272)" d="M810 0H830"/>
<path transform="rotate(-5.3696)" d="M760 0H845"/>
<g transform="rotate(-6.712)"><path d="M675 0H695M810 0H850"/><circle r="675" stroke-dasharray="237.22 9999"/></g>
<g transform="rotate(-8.0544)"><path d="M715 0H760M810 0H840"/><circle r="810" stroke-dasharray="56.93 9999"/></g>
<path transform="rotate(-9.3968)" d="M830 0H860"/>
<g transform="rotate(-10.7392)"><path d="M760 0H870"/><circle r="760" stroke-dasharray="71.22 9999"/></g>
<path transform="rotate(-12.0816)" d="M830 0H880"/>
</g>
<g transform="rotate(-233.5072)">
<g><path d="M830 0H865"/><circle r="830" stroke-dasharray="58.34 9999"/></g>
<path transform="rotate(-1.3424)" d="M850 0H880"/>
<g transform="rotate(-2.6848)"><path d="M695 0H715M800 0H900"/><circle r="695" stroke-dasharray="227.97 9999"/></g>
<path transform="rotate(-4.0272)" d="M850 0H890"/>
<g transform="rotate(-5.3696)"><path d="M745 0H800M850 0H895"/><circle r="850" stroke-dasharray="59.74 9999"/></g>
<path transform="rotate(-6.712)" d="M870 0H910"/>
<g transform="rotate(-8.0544)"><path d="M800 0H920"/><circle r="800" stroke-dasharray="74.97 9999"/></g>
<path transform="rotate(-9.3968)" d="M870 0H940"/>
<g transform="rotate(-10.7392)"><path d="M715 0H745M870 0H925"/><circle r="870" stroke-dasharray="61.15 9999"/><circle r="715" stroke-dasharray="201.02 9999"/></g>
<path transform="rotate(-12.0816)" d="M910 0H930"/>
</g>
<g transform="rotate(-246.9312)">
<path d="M880 0H935"/>
<path transform="rotate(-1.3424)" d="M910 0H940"/>
<g transform="rotate(-2.6848)"><path d="M745 0H880M910 0H938"/><circle r="910" stroke-dasharray="63.96 9999"/><circle r="745" stroke-dasharray="139.64 9999"/></g>
<path transform="rotate(-4.0272)" d="M920 0H940"/>
<g transform="rotate(-5.3696)"><path d="M880 0H946"/><circle r="880" stroke-dasharray="82.47 9999"/></g>
<path transform="rotate(-6.712)" d="M920 0H942"/>
<g transform="rotate(-8.0544)"><path d="M920 0H946"/><circle r="920" stroke-dasharray="64.66 9999"/></g>
</g>
</g>
<g id="legend">
<g id="legend-polymorphism">
<text class="lt" x="2906" y="224">1. Cyp51A Polymorphism</text>
<rect x="2906" y="278" width="103" height="104" class="w"/>
<rect x="2906" y="381.1" width="103" height="104" class="r"/>
<rect x="2906" y="484.2" width="103" height="104" class="r2"/>
<rect x="2906" y="587.3" width="103" height="104" class="t"/>
<rect x="2906" y="690.4" width="103" height="104" class="y"/>
<rect x="2906" y="793.5" width="103" height="104" class="e"/>
<rect x="2906" y="896.6" width="103" height="104" class="n"/>
<rect x="2906" y="999.7" width="103" height="104" class="g"/>
<rect x="2906" y="1102.8" width="103" height="103" class="p"/>
<text class="ll" x="3047" y="352.5">WT</text>
<text class="ll" x="3047" y="455.6">TR34/L98H</text>
<text class="ll" x="3047" y="558.7">TR34/L98H/T289A/I634V/G448S</text>
<text class="ll" x="3047" y="661.8">TR34</text>
<text class="ll" x="3047" y="764.9">TR46/Y121F/T289A</text>
<text class="ll" x="3047" y="868">G54E</text>
<text class="ll" x="3047" y="971.1">G54R</text>
<text class="ll" x="3047" y="1074.2">G54W</text>
<text class="ll" x="3047" y="1177.3">P216L</text>
</g>
<g id="legend-clade">
<text class="lt" x="2906" y="1435">2. Clade</text>
<rect x="2906" y="1479" width="123" height="123" class="ca"/>
<rect x="2906" y="1601" width="123" height="123" class="cb"/>
<text class="ll" x="3067" y="1563">A</text>
<text class="ll" x="3067" y="1685">B</text>
</g>
<g id="legend-source">
<text class="lt" x="2906" y="1948">3. Source</text>
<rect x="2906" y="1997" width="123" height="124" class="sk"/>
<rect x="2906" y="2120" width="123" height="124" class="sc"/>
<rect x="2906" y="2243" width="123" height="124" class="sv"/>
<text class="ll" x="3067" y="2081">CAPA</text>
<text class="ll" x="3067" y="2204">Clinical</text>
<text class="ll" x="3067" y="2328">Environmental</text>
</g>
</g>
</svg>
